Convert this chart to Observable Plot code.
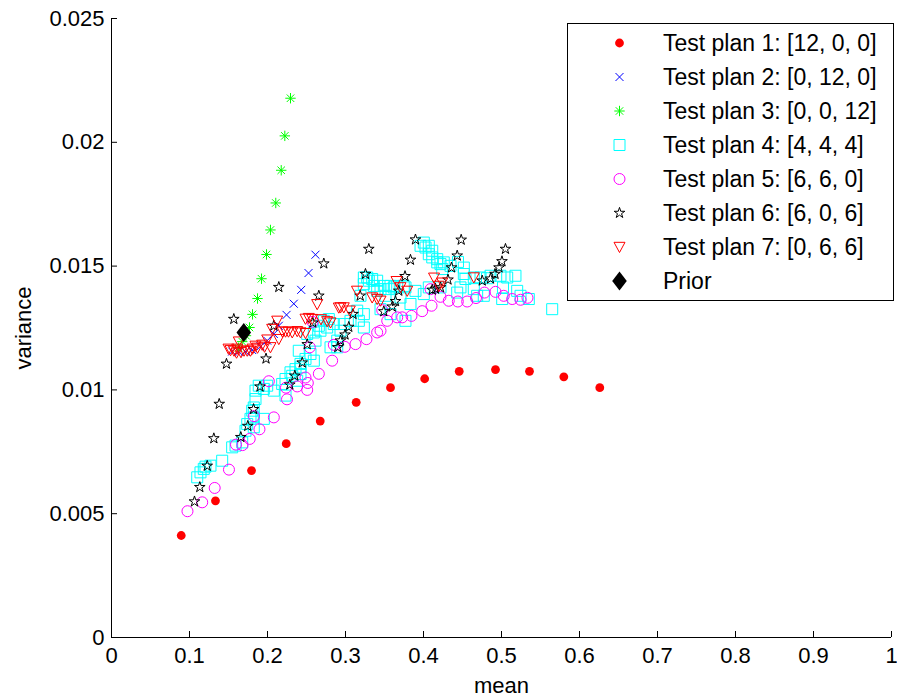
<!DOCTYPE html>
<html>
<head>
<meta charset="utf-8">
<script src="https://cdn.jsdelivr.net/npm/d3@7"></script>
<script src="https://cdn.jsdelivr.net/npm/@observablehq/plot@0.6"></script>
<style>
  body { margin: 0; background: #fff; }
  #chart { position: relative; width: 897px; height: 698px; font-family: "Liberation Sans", Arial, sans-serif; }
  #legend { position: absolute; left: 567px; top: 23px; }
</style>
</head>
<body>
<div id="chart"></div>
<script>
// Posterior mean and variance of each outcome, per test plan: [mean, variance]
const plan1 = [
  [0.0894, 0.00412], [0.1333, 0.00552], [0.1795, 0.00674], [0.2240, 0.00783], [0.2676, 0.00874],
  [0.3137, 0.00950], [0.3577, 0.01009], [0.4015, 0.01045], [0.4458, 0.01075], [0.4923, 0.01082],
  [0.5359, 0.01075], [0.5799, 0.01053], [0.6260, 0.01009]
];
const plan2 = [
  [0.2615, 0.01546], [0.2526, 0.01472], [0.2432, 0.01404], [0.2337, 0.01348], [0.2244, 0.01303],
  [0.2145, 0.01259], [0.2081, 0.01226], [0.1996, 0.01199], [0.1910, 0.01176], [0.1804, 0.01161],
  [0.1718, 0.01154], [0.1632, 0.01155], [0.1547, 0.01155]
];
const plan3 = [
  [0.2295, 0.02178], [0.2222, 0.02026], [0.2176, 0.01887], [0.2106, 0.01755], [0.2038, 0.01646],
  [0.1987, 0.01547], [0.1923, 0.01449], [0.1872, 0.01369], [0.1808, 0.01305], [0.1769, 0.01252],
  [0.1724, 0.01219], [0.1676, 0.01195], [0.1628, 0.01170]
];
const plan4 = [
  [0.1099, 0.00647], [0.1141, 0.00667], [0.1183, 0.00681], [0.1205, 0.00690], [0.1269, 0.00694],
  [0.1419, 0.00714], [0.1547, 0.00768], [0.1590, 0.00775], [0.1676, 0.00788], [0.1718, 0.00835],
  [0.1740, 0.00862], [0.1782, 0.00883], [0.1824, 0.00849], [0.1824, 0.00889], [0.1953, 0.00883],
  [0.1804, 0.00916], [0.1824, 0.00929], [0.1846, 0.00963], [0.1846, 0.00997], [0.1888, 0.01017],
  [0.1953, 0.01004], [0.1996, 0.01017], [0.2081, 0.00997], [0.2188, 0.01024], [0.2231, 0.01044],
  [0.2231, 0.00977], [0.2295, 0.01071], [0.2317, 0.01057], [0.2359, 0.01084], [0.2381, 0.01037],
  [0.2423, 0.01105], [0.2423, 0.01064], [0.2423, 0.01091], [0.2487, 0.01125], [0.2551, 0.01145],
  [0.2401, 0.01158], [0.2594, 0.01118], [0.2615, 0.01199], [0.2594, 0.01232], [0.2658, 0.01259],
  [0.2722, 0.01279], [0.2786, 0.01286], [0.2509, 0.01226], [0.2679, 0.01239], [0.2765, 0.01252],
  [0.2850, 0.01266], [0.2936, 0.01239], [0.2978, 0.01266], [0.3064, 0.01279], [0.3150, 0.01320],
  [0.3171, 0.01279], [0.3235, 0.01306], [0.3235, 0.01252], [0.2808, 0.01172], [0.2894, 0.01199],
  [0.2894, 0.01172], [0.3449, 0.01326], [0.3577, 0.01306], [0.3192, 0.01380], [0.3235, 0.01427],
  [0.3235, 0.01454], [0.3278, 0.01454], [0.3299, 0.01441], [0.3342, 0.01448], [0.3406, 0.01441],
  [0.3363, 0.01420], [0.3406, 0.01400], [0.3449, 0.01407], [0.3491, 0.01420], [0.3513, 0.01380],
  [0.3555, 0.01407], [0.3577, 0.01420], [0.3619, 0.01414], [0.3663, 0.01420], [0.3747, 0.01420],
  [0.3769, 0.01414], [0.3897, 0.01400], [0.4004, 0.01387], [0.3705, 0.01373], [0.3833, 0.01347],
  [0.3769, 0.01279], [0.3962, 0.01582], [0.4004, 0.01595], [0.4026, 0.01575], [0.4068, 0.01582],
  [0.4068, 0.01548], [0.4112, 0.01562], [0.4112, 0.01535], [0.4176, 0.01528], [0.4176, 0.01515],
  [0.4218, 0.01508], [0.4260, 0.01515], [0.4240, 0.01488], [0.4346, 0.01501], [0.4442, 0.01517],
  [0.4517, 0.01494], [0.4517, 0.01468], [0.4538, 0.01448], [0.4645, 0.01454], [0.4731, 0.01454],
  [0.4814, 0.01451], [0.4859, 0.01461], [0.4987, 0.01461], [0.5073, 0.01454], [0.5179, 0.01461],
  [0.4068, 0.01414], [0.4218, 0.01414], [0.4432, 0.01393], [0.4474, 0.01414], [0.4645, 0.01407],
  [0.4688, 0.01380], [0.4773, 0.01380], [0.5019, 0.01414], [0.5009, 0.01367], [0.5201, 0.01400],
  [0.5244, 0.01380], [0.5350, 0.01367], [0.5650, 0.01326]
];
const plan5 = [
  [0.0974, 0.00510], [0.1163, 0.00546], [0.1323, 0.00604], [0.1506, 0.00678], [0.1596, 0.00779],
  [0.1679, 0.00777], [0.1772, 0.00802], [0.1897, 0.00841], [0.2081, 0.00889], [0.1827, 0.00894],
  [0.2017, 0.01035], [0.2237, 0.01009], [0.2250, 0.00962], [0.2381, 0.01014], [0.2517, 0.01028],
  [0.2509, 0.01000], [0.2658, 0.01065], [0.2487, 0.01050], [0.2542, 0.01172], [0.2850, 0.01182],
  [0.2991, 0.01174], [0.3128, 0.01185], [0.3269, 0.01205], [0.3406, 0.01232], [0.3535, 0.01279],
  [0.3663, 0.01293], [0.3727, 0.01293], [0.3846, 0.01299], [0.3983, 0.01318], [0.4103, 0.01340],
  [0.4218, 0.01376], [0.4090, 0.01407], [0.4324, 0.01360], [0.4440, 0.01357], [0.4560, 0.01357],
  [0.4673, 0.01371], [0.4782, 0.01393], [0.4923, 0.01396], [0.5029, 0.01380], [0.5137, 0.01367],
  [0.5244, 0.01364], [0.5333, 0.01372], [0.3449, 0.01239], [0.2829, 0.01118], [0.3471, 0.01322],
  [0.2577, 0.01275]
];
const plan6 = [
  [0.1064, 0.00549], [0.1132, 0.00607], [0.1227, 0.00693], [0.1312, 0.00804], [0.1381, 0.00943],
  [0.1474, 0.01105], [0.1568, 0.01286], [0.1658, 0.00809], [0.1747, 0.00854], [0.1821, 0.00922],
  [0.1904, 0.01013], [0.1981, 0.01126], [0.2081, 0.01259], [0.2145, 0.01415], [0.2286, 0.01021],
  [0.2350, 0.01057], [0.2445, 0.01110], [0.2509, 0.01184], [0.2581, 0.01271], [0.2658, 0.01380],
  [0.2722, 0.01510], [0.2901, 0.01172], [0.2936, 0.01199], [0.2994, 0.01223], [0.3042, 0.01254],
  [0.3096, 0.01306], [0.3188, 0.01380], [0.3256, 0.01468], [0.3299, 0.01569], [0.3491, 0.01317],
  [0.3599, 0.01336], [0.3641, 0.01358], [0.3683, 0.01400], [0.3763, 0.01459], [0.3833, 0.01525],
  [0.3897, 0.01607], [0.4112, 0.01404], [0.4154, 0.01408], [0.4218, 0.01414], [0.4314, 0.01445],
  [0.4359, 0.01494], [0.4432, 0.01542], [0.4483, 0.01606], [0.4753, 0.01441], [0.4859, 0.01449],
  [0.4917, 0.01468], [0.4968, 0.01494], [0.5006, 0.01519], [0.5051, 0.01569]
];
const plan7 = [
  [0.1500, 0.01166], [0.1526, 0.01160], [0.1571, 0.01158], [0.1612, 0.01166], [0.1632, 0.01195],
  [0.1603, 0.01150], [0.1660, 0.01152], [0.1699, 0.01158], [0.1740, 0.01158], [0.1782, 0.01158],
  [0.1808, 0.01166], [0.1846, 0.01178], [0.1872, 0.01170], [0.1932, 0.01182], [0.1962, 0.01174],
  [0.1996, 0.01203], [0.2038, 0.01172], [0.2060, 0.01246], [0.2124, 0.01279], [0.2145, 0.01205],
  [0.2192, 0.01235], [0.2231, 0.01235], [0.2269, 0.01235], [0.2317, 0.01232], [0.2381, 0.01237],
  [0.2423, 0.01232], [0.2487, 0.01229], [0.2487, 0.01287], [0.2529, 0.01290], [0.2573, 0.01286],
  [0.2637, 0.01346], [0.2686, 0.01285], [0.2765, 0.01277], [0.2808, 0.01272], [0.2914, 0.01332],
  [0.2978, 0.01333], [0.2936, 0.01333], [0.3055, 0.01320], [0.3147, 0.01400], [0.3342, 0.01373],
  [0.3406, 0.01367], [0.3449, 0.01360], [0.3654, 0.01439], [0.3705, 0.01414], [0.3791, 0.01400],
  [0.4135, 0.01453], [0.4196, 0.01420], [0.4240, 0.01433], [0.4645, 0.01454]
];
const prior = [[0.1696, 0.01232]];

const seriesLabels = [
  "Test plan 1: [12, 0, 0]",
  "Test plan 2: [0, 12, 0]",
  "Test plan 3: [0, 0, 12]",
  "Test plan 4: [4, 4, 4]",
  "Test plan 5: [6, 6, 0]",
  "Test plan 6: [6, 0, 6]",
  "Test plan 7: [0, 6, 6]",
  "Prior"
];
const xTicks = [0, 0.1, 0.2, 0.3, 0.4, 0.5, 0.6, 0.7, 0.8, 0.9, 1];
const yTicks = [0, 0.005, 0.01, 0.015, 0.02, 0.025];

// MATLAB-style marker shapes; r is the nominal radius in pixels
const rad = (size) => Math.sqrt(size / Math.PI);
const markers = {
  dot: { draw(c, s) { const r = rad(s); c.moveTo(r, 0); c.arc(0, 0, r, 0, 2 * Math.PI); c.closePath(); } },
  times: { draw(c, s) { const r = rad(s); c.moveTo(-r, -r); c.lineTo(r, r); c.moveTo(r, -r); c.lineTo(-r, r); } },
  asterisk: { draw(c, s) { const r = rad(s), d = r * 0.72;
    c.moveTo(-r, 0); c.lineTo(r, 0); c.moveTo(0, -r); c.lineTo(0, r);
    c.moveTo(-d, -d); c.lineTo(d, d); c.moveTo(d, -d); c.lineTo(-d, d); } },
  square: { draw(c, s) { const r = rad(s); c.rect(-r, -r, 2 * r, 2 * r); } },
  circle: { draw(c, s) { const r = rad(s); c.moveTo(r, 0); c.arc(0, 0, r, 0, 2 * Math.PI); c.closePath(); } },
  pentagram: { draw(c, s) { const R = rad(s), ri = R * 0.382;
    for (let i = 0; i < 10; ++i) {
      const a = -Math.PI / 2 + i * Math.PI / 5, rr = i % 2 ? ri : R;
      const px = rr * Math.cos(a), py = rr * Math.sin(a);
      i ? c.lineTo(px, py) : c.moveTo(px, py);
    }
    c.closePath(); } },
  triangleDown: { draw(c, s) { const r = rad(s);
    c.moveTo(-r, -r * 0.85); c.lineTo(r, -r * 0.85); c.lineTo(0, r); c.closePath(); } },
  diamond: { draw(c, s) { const r = rad(s);
    c.moveTo(0, -r * 1.3); c.lineTo(r, 0); c.lineTo(0, r * 1.3); c.lineTo(-r, 0); c.closePath(); } }
};

// Style per series: marker, radius, fill, stroke
const styles = [
  { symbol: markers.dot, r: 4.4, fill: "#ff0000", stroke: "none" },
  { symbol: markers.times, r: 4, fill: "none", stroke: "#0000ff" },
  { symbol: markers.asterisk, r: 5.2, fill: "none", stroke: "#00ff00" },
  { symbol: markers.square, r: 5.5, fill: "none", stroke: "#00ffff" },
  { symbol: markers.circle, r: 5.5, fill: "none", stroke: "#ff00ff" },
  { symbol: markers.pentagram, r: 5.6, fill: "none", stroke: "#000000" },
  { symbol: markers.triangleDown, r: 5.5, fill: "none", stroke: "#ff0000" },
  { symbol: markers.diamond, r: 7.3, fill: "#000000", stroke: "none" }
];
const series = [plan1, plan2, plan3, plan4, plan5, plan6, plan7, prior];

const chart = Plot.plot({
  width: 897,
  height: 698,
  marginLeft: 111,
  marginRight: 6,
  marginTop: 18,
  marginBottom: 61,
  style: { fontFamily: "'Liberation Sans', Arial, sans-serif", fontSize: "22px", color: "#000", background: "#fff" },
  x: { domain: [0, 1] },
  y: { domain: [0, 0.025] },
  marks: [
    ...series.map((data, i) => Plot.dot(data, {
      x: (d) => d[0],
      y: (d) => d[1],
      symbol: styles[i].symbol,
      r: styles[i].r,
      fill: styles[i].fill,
      stroke: styles[i].stroke,
      strokeWidth: 1
    })),
    Plot.axisX(xTicks, {
      tickSize: -6, tickPadding: 16, tickFormat: (d) => String(d),
      label: "mean", labelAnchor: "center", labelArrow: "none", labelOffset: 55
    }),
    Plot.axisY(yTicks, {
      tickSize: -6, tickPadding: 13, tickFormat: (d) => String(d),
      label: "variance", labelAnchor: "center", labelArrow: "none", labelOffset: 96
    }),
    Plot.ruleX([0], { stroke: "#000" }),
    Plot.ruleY([0], { stroke: "#000" })
  ]
});
document.getElementById("chart").appendChild(chart);

// Legend box drawn over the upper-right corner of the axes
const legendW = 326, legendH = 277, rowH = 34;
const legend = d3.select("#chart").append("svg")
  .attr("id", "legend")
  .attr("width", legendW + 1)
  .attr("height", legendH + 1);
legend.append("rect")
  .attr("x", 0.5).attr("y", 0.5)
  .attr("width", legendW).attr("height", legendH)
  .attr("fill", "#fff").attr("stroke", "#000").attr("stroke-width", 1);
const rows = legend.selectAll("g.row").data(seriesLabels).join("g")
  .attr("class", "row")
  .attr("transform", (d, i) => `translate(0,${20 + i * rowH})`);
rows.append("path")
  .attr("transform", "translate(52.5,0)")
  .attr("d", (d, i) => { const p = d3.path(); styles[i].symbol.draw(p, Math.PI * styles[i].r * styles[i].r); return p.toString(); })
  .attr("fill", (d, i) => styles[i].fill)
  .attr("stroke", (d, i) => styles[i].stroke)
  .attr("stroke-width", 1);
rows.append("text")
  .attr("x", 96)
  .attr("y", 8)
  .attr("font-family", "'Liberation Sans', Arial, sans-serif")
  .attr("font-size", 23)
  .attr("fill", "#000")
  .text((d) => d);
</script>
</body>
</html>
